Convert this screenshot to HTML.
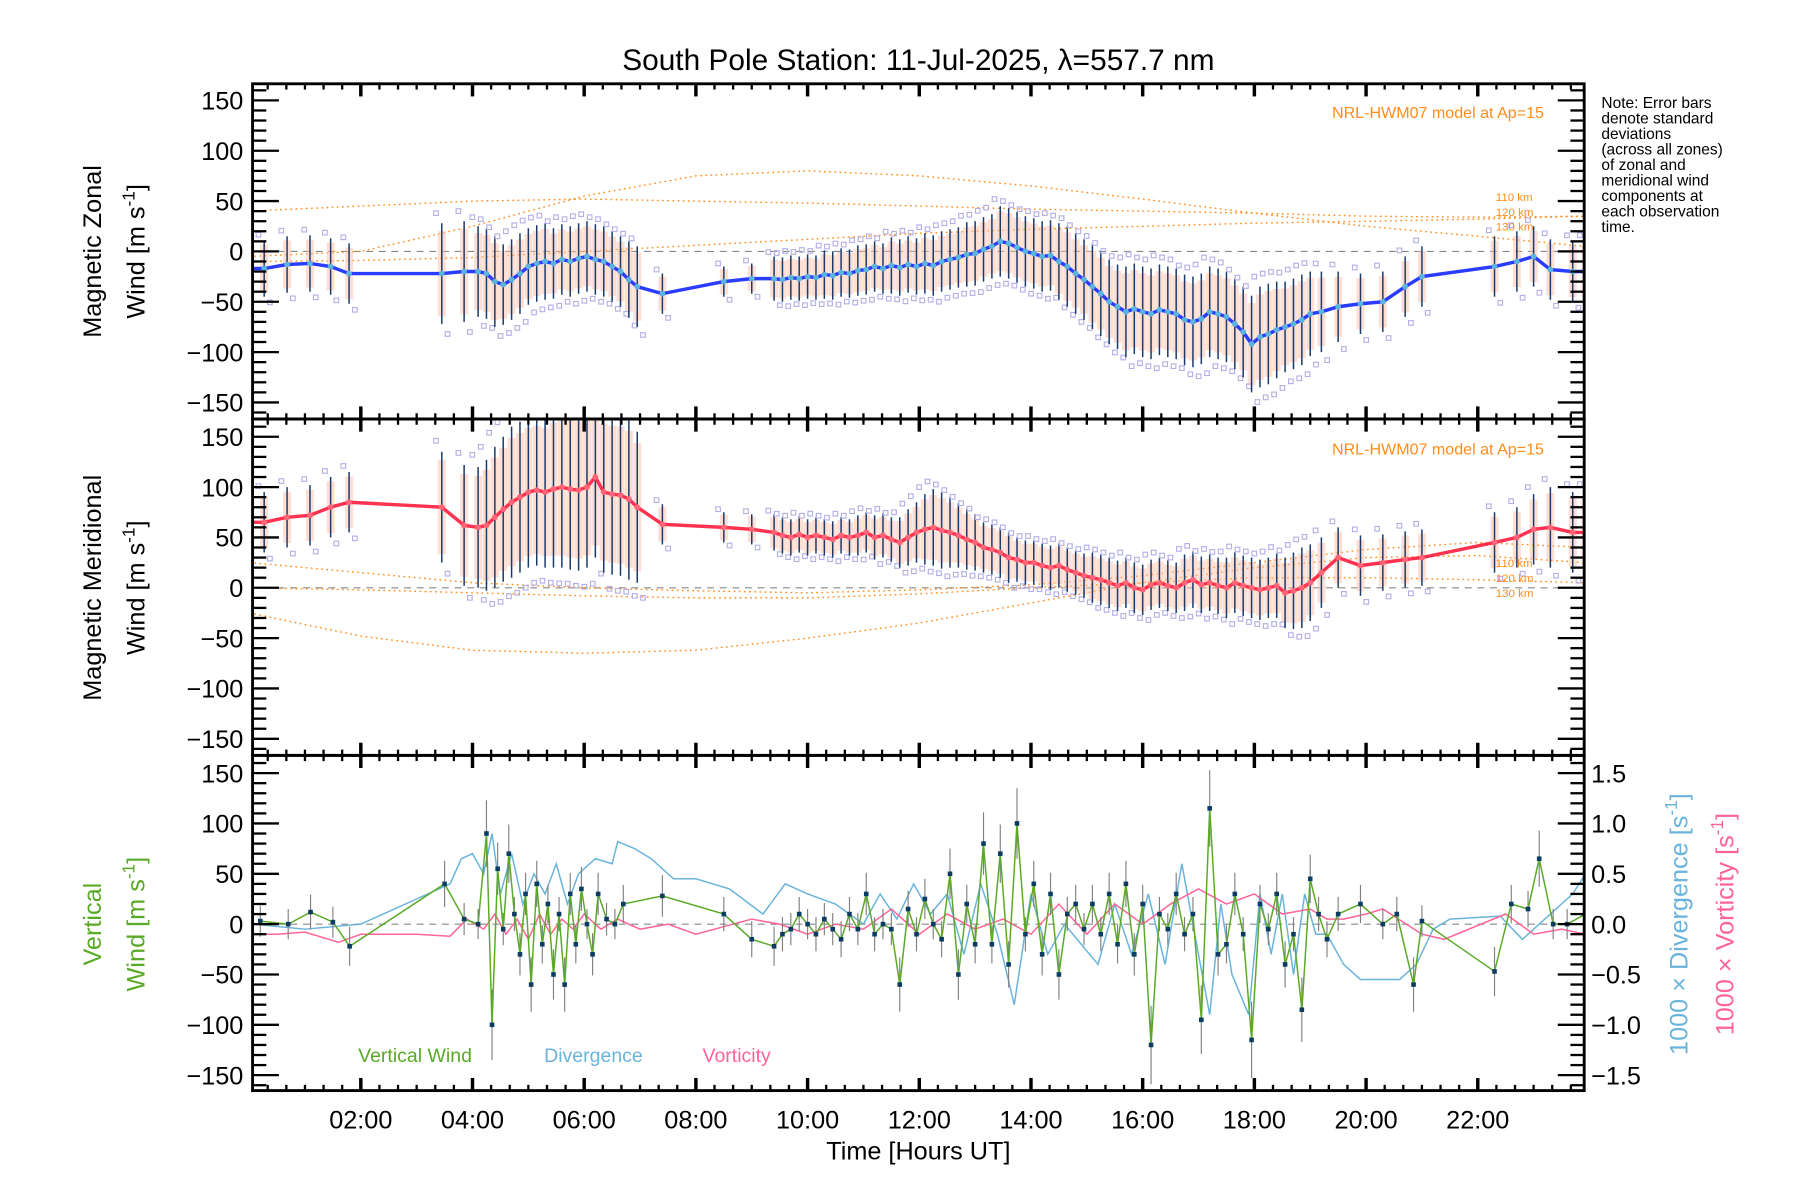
<!DOCTYPE html>
<html><head><meta charset="utf-8"><style>
html,body{margin:0;padding:0;background:#fff}
svg{display:block;font-family:"Liberation Sans",sans-serif}
</style></head><body>
<svg id="c" width="1800" height="1200" viewBox="0 0 1568 1045.3" preserveAspectRatio="none" xmlns="http://www.w3.org/2000/svg">
<defs>
<clipPath id="cp0"><rect x="220" y="73" width="1160" height="292"/></clipPath>
<clipPath id="cp1"><rect x="220" y="365" width="1160" height="293"/></clipPath>
<clipPath id="cp2"><rect x="220" y="658" width="1160" height="292"/></clipPath>
</defs>
<text x="800" y="61" font-size="26" text-anchor="middle">South Pole Station: 11-Jul-2025, λ=557.7 nm</text>
<g id="layer"></g>
<g font-size="13.5" fill="#000">
<text x="1395" y="94">Note: Error bars</text><text x="1395" y="107.5">denote standard</text><text x="1395" y="121">deviations</text><text x="1395" y="134.5">(across all zones)</text><text x="1395" y="148">of zonal and</text><text x="1395" y="161.5">meridional wind</text><text x="1395" y="175">components at</text><text x="1395" y="188.5">each observation</text><text x="1395" y="202">time.</text>
</g>
<g font-size="14" fill="#ff8c1a" text-anchor="end">
<text x="1345" y="103">NRL-HWM07 model at Ap=15</text>
<text x="1345" y="396">NRL-HWM07 model at Ap=15</text>
</g>
<g font-size="10" fill="#ff8c1a">
<text x="1303" y="175">110 km</text>
<text x="1303" y="188">120 km</text>
<text x="1303" y="201">130 km</text>
<text x="1303" y="494">110 km</text>
<text x="1303" y="507">120 km</text>
<text x="1303" y="520">130 km</text>
</g>
<g font-size="22" text-anchor="middle">
<text transform="translate(88,219) rotate(-90)">Magnetic Zonal</text>
<text transform="translate(126,219) rotate(-90)">Wind [m s<tspan dy="-9" font-size="15">-1</tspan><tspan dy="9">]</tspan></text>
<text transform="translate(88,512) rotate(-90)">Magnetic Meridional</text>
<text transform="translate(126,512) rotate(-90)">Wind [m s<tspan dy="-9" font-size="15">-1</tspan><tspan dy="9">]</tspan></text>
<text fill="#5aaa28" transform="translate(88,805) rotate(-90)">Vertical</text>
<text fill="#5aaa28" transform="translate(126,805) rotate(-90)">Wind [m s<tspan dy="-9" font-size="15">-1</tspan><tspan dy="9">]</tspan></text>
<text fill="#6ab4dc" transform="translate(1470,805) rotate(-90)">1000 × Divergence [s<tspan dy="-9" font-size="15">-1</tspan><tspan dy="9">]</tspan></text>
<text fill="#ff6496" transform="translate(1510,805) rotate(-90)">1000 × Vorticity [s<tspan dy="-9" font-size="15">-1</tspan><tspan dy="9">]</tspan></text>
<text x="800" y="1010">Time [Hours UT]</text>
</g>
<g font-size="17">
<text x="312" y="925" fill="#5aaa28">Vertical Wind</text>
<text x="474" y="925" fill="#6ab4dc">Divergence</text>
<text x="612" y="925" fill="#ff6496">Vorticity</text>
</g>
</svg>
<script>
const T=[0.27,0.68,1.09,1.46,1.79,3.45,3.85,4.1,4.25,4.4,4.55,4.7,4.85,5.0,5.15,5.3,5.45,5.6,5.75,5.9,6.05,6.2,6.35,6.5,6.65,6.8,6.95,7.4,8.5,9.0,9.4,9.55,9.7,9.85,10.0,10.15,10.3,10.45,10.6,10.75,10.9,11.05,11.2,11.35,11.5,11.65,11.8,11.95,12.1,12.25,12.4,12.55,12.7,12.85,13.0,13.15,13.3,13.45,13.6,13.75,13.9,14.05,14.2,14.35,14.5,14.65,14.8,14.95,15.1,15.25,15.4,15.55,15.7,15.85,16.0,16.15,16.3,16.45,16.6,16.75,16.9,17.05,17.2,17.35,17.5,17.65,17.8,17.95,18.1,18.25,18.4,18.55,18.7,18.85,19.0,19.2,19.5,19.9,20.3,20.7,21.0,22.3,22.7,23.0,23.3,23.7,23.93];
const ZONAL=[-17,-13,-12,-15,-22,-22,-20,-20,-22,-30,-33,-28,-22,-15,-12,-10,-12,-8,-10,-7,-5,-8,-10,-15,-20,-28,-35,-42,-30,-27,-27,-28,-26,-27,-25,-26,-23,-24,-21,-22,-19,-18,-15,-17,-14,-16,-13,-15,-12,-14,-10,-8,-6,-3,-2,2,5,10,8,4,0,-2,-5,-4,-10,-15,-22,-28,-35,-42,-50,-55,-60,-57,-60,-62,-58,-60,-62,-68,-70,-67,-60,-62,-65,-72,-80,-92,-85,-82,-78,-75,-72,-68,-62,-60,-55,-52,-50,-35,-25,-15,-10,-5,-18,-20,-20];
const ZONAL_SD=[28,28,28,28,30,50,50,45,45,45,40,40,40,38,38,38,35,35,35,35,35,35,35,35,35,38,40,20,15,15,22,22,22,22,22,22,24,24,24,24,25,25,25,25,28,28,28,28,30,30,30,30,30,32,32,32,32,35,35,35,35,35,35,35,38,40,40,40,42,42,42,42,45,45,45,45,45,45,45,45,45,45,45,45,45,45,45,48,50,50,48,45,45,45,42,40,35,30,30,30,30,30,30,30,30,30,30];
const MERID=[65,70,72,80,85,80,62,60,62,70,78,85,90,95,97,95,98,100,98,97,100,110,95,93,92,88,80,63,60,58,55,52,50,53,50,52,50,48,52,50,52,55,50,52,48,45,50,55,58,60,57,55,52,48,45,40,38,35,30,28,25,25,22,20,22,18,15,12,10,8,5,2,5,0,-2,3,5,2,0,5,8,3,5,2,0,5,2,0,-2,0,2,-5,-3,0,5,15,30,22,25,28,30,45,50,58,60,55,55];
const MERID_SD=[30,30,30,30,30,55,60,60,65,70,72,75,75,75,75,75,78,80,80,80,80,80,80,80,80,80,75,20,15,15,18,18,18,18,18,18,18,18,18,18,20,20,22,22,22,25,28,30,35,38,38,35,32,30,28,25,25,25,25,22,22,22,22,22,22,22,22,22,25,25,25,25,25,25,25,25,25,25,25,28,28,28,28,28,30,30,30,30,30,30,32,35,38,40,38,35,30,30,28,28,28,30,30,35,40,40,40];
const WIND_T=[0.2,0.7,1.1,1.5,1.8,3.5,3.85,4.1,4.25,4.35,4.45,4.55,4.65,4.75,4.85,4.95,5.05,5.15,5.25,5.35,5.45,5.55,5.65,5.75,5.85,5.95,6.05,6.15,6.25,6.4,6.55,6.7,7.4,8.5,9.0,9.4,9.55,9.7,9.85,10.0,10.15,10.3,10.45,10.6,10.75,10.9,11.05,11.2,11.35,11.5,11.65,11.8,11.95,12.1,12.25,12.4,12.55,12.7,12.85,13.0,13.15,13.3,13.45,13.6,13.75,13.9,14.05,14.2,14.35,14.5,14.65,14.8,14.95,15.1,15.25,15.4,15.55,15.7,15.85,16.0,16.15,16.3,16.45,16.6,16.75,16.9,17.05,17.2,17.35,17.5,17.65,17.8,17.95,18.1,18.25,18.4,18.55,18.7,18.85,19.0,19.15,19.3,19.5,19.9,20.3,20.55,20.85,21.0,22.3,22.6,22.9,23.1,23.35,23.6,23.93];
const WIND=[3,0,12,2,-22,40,5,0,90,-100,55,-5,70,10,-30,30,-60,40,-20,20,-50,10,-60,30,-20,35,0,-30,30,5,0,20,28,10,-15,-22,-10,-5,10,0,-10,5,-5,-15,10,-5,30,-10,0,-5,-60,15,-10,25,0,-15,50,-50,20,-20,80,-20,70,-40,100,-10,40,-30,30,-50,10,20,-5,20,-10,30,-20,40,-30,20,-120,10,-5,30,-10,10,-95,115,-30,-20,30,-10,-115,20,-5,30,-40,-10,-85,45,10,-15,10,20,0,10,-60,3,-47,20,15,65,0,0,10];
const DIV_T=[0.07,1.0,2.0,3.0,3.6,3.8,4.0,4.2,4.35,4.5,4.7,4.9,5.1,5.3,5.5,5.7,5.9,6.2,6.5,6.6,6.9,7.2,7.6,8.0,8.6,9.2,9.6,10.0,10.5,11.0,11.3,11.6,11.9,12.2,12.5,12.8,13.1,13.4,13.7,14.0,14.3,14.6,14.9,15.2,15.5,15.8,16.1,16.4,16.7,17.0,17.2,17.4,17.6,17.9,18.1,18.3,18.5,18.7,18.9,19.1,19.3,19.6,19.9,20.6,20.9,21.2,21.5,22.4,22.8,23.3,23.7,23.93];
const DIV=[0,-0.05,0,0.25,0.4,0.65,0.7,0.5,0.9,0.3,0.7,0.2,0.5,0.3,0.6,0.2,0.5,0.65,0.6,0.82,0.75,0.65,0.45,0.45,0.35,0.1,0.4,0.3,0.2,0,0.3,0.05,0.4,0.1,0.3,-0.3,0.4,-0.1,-0.8,0.3,-0.3,0,-0.2,-0.4,0.2,-0.3,0.3,-0.4,0.6,-0.3,-0.9,0.2,-0.5,-0.9,0.3,-0.3,0.3,-0.5,0.3,-0.1,-0.1,-0.4,-0.55,-0.55,-0.4,-0.05,0.05,0.08,-0.15,0.1,0.3,0.5];
const VORT_T=[0.07,0.5,1.0,1.6,2.0,3.0,3.6,3.9,4.2,4.4,4.6,4.8,5.0,5.2,5.4,5.6,5.8,6.0,6.3,6.6,7.0,7.5,8.0,9.0,9.5,10.0,10.5,11.0,11.5,12.0,12.5,13.0,13.5,14.0,14.5,15.0,15.5,16.0,16.5,17.0,17.5,18.0,18.5,19.0,19.3,19.6,20.0,20.3,21.0,21.4,22.5,23.0,23.5,23.93];
const VORT=[-0.1,-0.1,-0.08,-0.18,-0.1,-0.1,-0.12,0.05,-0.05,0.1,-0.1,0.05,-0.15,0.1,-0.1,0.05,-0.05,0.1,-0.05,0.05,-0.05,0,-0.1,0.05,0,-0.1,0,-0.05,0.15,-0.1,0.1,-0.05,0.05,-0.1,0.2,-0.1,0.2,0,0.2,0.35,0.2,0.3,0.1,0.15,0.05,0.05,0.1,0.15,-0.1,-0.15,0.1,-0.1,-0.05,-0.1];
const MODEL_T=[0,2,4,6,8,10,12,14,16,18,20,22,23.93];
const ZM1=[40,45,50,52,50,48,45,42,40,38,35,34,35];
const ZM2=[-5,0,25,55,75,80,75,65,52,38,25,15,5];
const ZM3=[-10,-9,-6,0,6,12,18,22,25,28,30,32,35];
const MM1=[25,15,5,0,-3,-5,-2,3,12,25,38,45,40];
const MM2=[-25,-48,-62,-65,-62,-50,-35,-15,5,20,30,32,25];
const MM3=[0,-2,-5,-8,-10,-10,-6,0,5,10,10,8,5];
const XTICKS=["02:00","04:00","06:00","08:00","10:00","12:00","14:00","16:00","18:00","20:00","22:00"];
const XTICK_H=[2,4,6,8,10,12,14,16,18,20,22];
const YTICKS=[150,100,50,0,-50,-100,-150];
const RTICKS=["1.5","1.0","0.5","0.0","−0.5","−1.0","−1.5"];

const NS="http://www.w3.org/2000/svg";
const L=220,R=1380,TOPS=[73,365,658],BOTS=[365,658,950],ZEROS=[219,512,805];
const px=h=>217+48.65*h;
const py=(p,v)=>ZEROS[p]-v*0.877;
const layer=document.getElementById('layer');
function mk(tag,attrs,parent){const e=document.createElementNS(NS,tag);for(const k in attrs)e.setAttribute(k,attrs[k]);(parent||layer).appendChild(e);return e;}
function poly(p,ts,vs,scale,stroke,w,dash,parent){let d="";const n=Math.min(ts.length,vs.length);for(let i=0;i<n;i++)d+=(i?"L":"M")+px(ts[i]).toFixed(1)+","+py(p,vs[i]*scale).toFixed(1);const e=mk('path',{d:d,fill:'none',stroke:stroke,'stroke-width':w},parent);if(dash)e.setAttribute('stroke-dasharray',dash);return e;}

for(let p=0;p<3;p++){
  const g=mk('g',{'clip-path':'url(#cp'+p+')'});
  
  
  const z=mk('line',{x1:L,x2:R,y1:ZEROS[p],y2:ZEROS[p],stroke:'#888','stroke-width':1,'stroke-dasharray':'6,5'},g);
  
  
  if(p<2){
    const ms=p==0?[ZM1,ZM2,ZM3]:[MM1,MM2,MM3];
    ms.forEach((m,k)=>{const e=poly(p,MODEL_T,m,1,'#ff8c1a',1.2,'1.5,3',g);
      
      });
    const vals=p==0?ZONAL:MERID, sds=p==0?ZONAL_SD:MERID_SD;
    const n=Math.min(T.length,vals.length,sds.length);
    for(let i=0;i<n;i++){
      const x=px(T[i]);
      const b=mk('line',{x1:x,x2:x,y1:py(p,vals[i]+sds[i]*0.85),y2:py(p,vals[i]-sds[i]*0.85),stroke:'#ffc0a8','stroke-width':7,opacity:0.5},g);
      
      
    }
    for(let i=0;i<n;i++){
      const x=px(T[i]);
      const e=mk('line',{x1:x,x2:x,y1:py(p,vals[i]+sds[i]),y2:py(p,vals[i]-sds[i]),stroke:'#1a3a6a','stroke-width':1.3},g);
      
      
      const s1=mk('rect',{x:x-7,y:py(p,vals[i]+sds[i]*1.2)-2,width:4,height:4,fill:'none',stroke:'#b4b0e6','stroke-width':1},g);
      
      
      const s2=mk('rect',{x:x+3,y:py(p,vals[i]-sds[i]*1.2)-2,width:4,height:4,fill:'none',stroke:'#b4b0e6','stroke-width':1},g);
      
      
    }
    const ln=poly(p,[0.07].concat(T),[vals[0]].concat(vals),1,p==0?'#2a3cff':'#ff3250',3,null,g);
    
    
    for(let i=0;i<n;i++){
      const c=mk('circle',{cx:px(T[i]),cy:py(p,vals[i]),r:2.5,fill:p==0?'#5ab4dc':'#ff6478'},g);
      
      
    }
  } else {
    const dv=poly(2,DIV_T,DIV,100,'#6ab4dc',1.3,null,g);
    
    
    const vo=poly(2,VORT_T,VORT,100,'#ff6496',1.3,null,g);
    
    
    const n=Math.min(WIND_T.length,WIND.length);
    for(let i=0;i<n;i++){
      const x=px(WIND_T[i]),e=15+Math.abs(WIND[i])*0.2;
      const b=mk('line',{x1:x,x2:x,y1:py(2,WIND[i]+e),y2:py(2,WIND[i]-e),stroke:'#808080','stroke-width':1},g);
      
      
    }
    const wl=poly(2,WIND_T,WIND,1,'#5aaa28',1.3,null,g);
    
    
    for(let i=0;i<n;i++){
      const r=mk('rect',{x:px(WIND_T[i])-2,y:py(2,WIND[i])-2,width:4,height:4,fill:'#0a3c64'},g);
      
      
    }
  }
  const f=mk('rect',{x:L,y:TOPS[p],width:R-L,height:BOTS[p]-TOPS[p],fill:'none',stroke:'#000','stroke-width':2.5});
  
  
  for(let v=-160;v<=160;v+=10){
    const y=py(p,v); if(y<TOPS[p]+1||y>BOTS[p]-1)continue;
    const len=(v%50==0)?23:12;
    mk('line',{x1:L,x2:L+len,y1:y,y2:y,stroke:'#000','stroke-width':2});
    mk('line',{x1:R,x2:R-len,y1:y,y2:y,stroke:'#000','stroke-width':2});
  }
  YTICKS.forEach((v,i)=>{const t=mk('text',{x:L-8,y:py(p,v)+8,'font-size':22,'text-anchor':'end'});t.textContent=String(v).replace('-','−');
    
    });
  if(p==2)RTICKS.forEach((s,i)=>{const t=mk('text',{x:R+6,y:py(2,YTICKS[i])+8,'font-size':22,'text-anchor':'start'});t.textContent=s;
    
    });
  for(let m=0;m<=24*3;m++){
    const h=m/3,x=px(h); if(x<L+1||x>R-1)continue;
    const len=(m%6==0)?11:5;
    mk('line',{x1:x,x2:x,y1:TOPS[p],y2:TOPS[p]+len,stroke:'#000','stroke-width':(m%6==0)?3:2});
    mk('line',{x1:x,x2:x,y1:BOTS[p],y2:BOTS[p]-len,stroke:'#000','stroke-width':(m%6==0)?3:2});
  }
}
XTICKS.forEach((s,i)=>{const t=mk('text',{x:px(XTICK_H[i]),y:983,'font-size':22,'text-anchor':'middle'});t.textContent=s;
  
  });
</script>
</body></html>
